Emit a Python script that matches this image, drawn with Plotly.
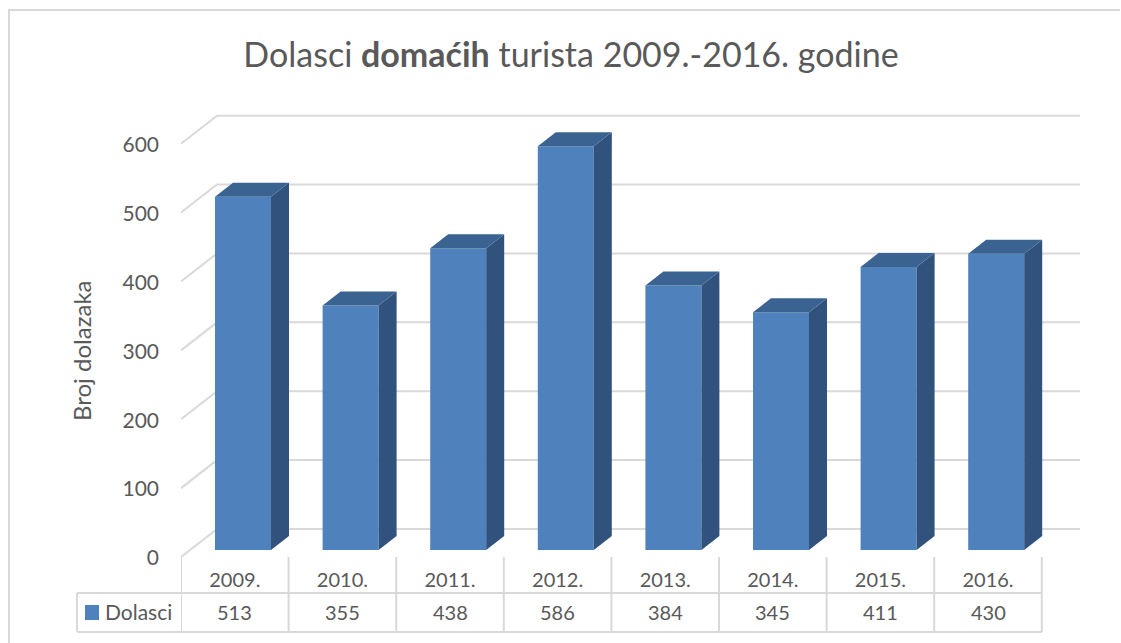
import plotly.graph_objects as go

years = ["2009.", "2010.", "2011.", "2012.", "2013.", "2014.", "2015.", "2016."]
values = [513, 355, 438, 586, 384, 345, 411, 430]
y_ticks = [0, 100, 200, 300, 400, 500, 600]
series_name = "Dolasci"
title = "Dolasci <b>domaćih</b> turista 2009.-2016. godine"
y_title = "Broj dolazaka"

W, H = 1121, 643
L, R, T, B = 181, 1085, 105, 557       # plot area in pixels
SX = 107.6                              # px per category
SY = 413.3 / 600                        # px per value unit

GREY = "#d9d9d9"
TEXT = "#595959"
FRONT = "#4f81bd"
SIDE = "#31527d"
TOP = "#3a6392"

px = lambda p: (p - L) / (R - L)
py = lambda p: (B - p) / (B - T)

idx = list(range(len(years)))
wall_dx, wall_dy = 36 / SX, 28 / SY
wall_end = (1080 - L) / SX - 0.5
bar_shift, bar_w = 8.2 / SX, 56 / SX
bar_dx, bar_dy = 18 / SX, 14 / SY
bar_base = 7 / SY

fig = go.Figure()
fig.add_bar(x=[i + bar_shift for i in idx], y=values, base=bar_base, width=bar_w,
            marker=dict(color=FRONT, line=dict(width=0)), name=series_name,
            showlegend=False, hoverinfo="skip")

for i, v in zip(idx, values):
    xl = i + bar_shift - bar_w / 2
    xr = xl + bar_w
    ybot = bar_base
    ytop = bar_base + v
    fig.add_scatter(x=[xr, xr + bar_dx, xr + bar_dx, xr, xr],
                    y=[ybot, ybot + bar_dy, ytop + bar_dy, ytop, ybot],
                    mode="lines", fill="toself", fillcolor=SIDE, line=dict(width=0),
                    showlegend=False, hoverinfo="skip")
    fig.add_scatter(x=[xl, xl + bar_dx, xr + bar_dx, xr, xl],
                    y=[ytop, ytop + bar_dy, ytop + bar_dy, ytop, ytop],
                    mode="lines", fill="toself", fillcolor=TOP, line=dict(width=0),
                    showlegend=False, hoverinfo="skip")

shapes = []
for t in y_ticks:
    shapes.append(dict(type="path", xref="x", yref="y", layer="below",
                       path=f"M -0.5,{t} L {-0.5 + wall_dx},{t + wall_dy} L {wall_end},{t + wall_dy}",
                       line=dict(color=GREY, width=2)))

line = dict(color=GREY, width=2)
for b in [i - 0.5 for i in idx] + [idx[-1] + 0.5]:
    shapes.append(dict(type="line", xref="x", yref="paper", x0=b, x1=b,
                       y0=py(557), y1=py(632), line=line))
for yy in (593, 632):
    shapes.append(dict(type="line", xref="paper", yref="paper", x0=px(77), x1=px(1042),
                       y0=py(yy), y1=py(yy), line=line))
shapes.append(dict(type="line", xref="paper", yref="paper", x0=px(77), x1=px(77),
                   y0=py(593), y1=py(632), line=line))
shapes.append(dict(type="path", xref="paper", yref="paper",
                   path=f"M {px(9)},{py(643)} L {px(9)},{py(10)} L {px(1120)},{py(10)}",
                   line=line))
shapes.append(dict(type="rect", xref="paper", yref="paper", x0=px(85), x1=px(99),
                   y0=py(620), y1=py(605), fillcolor=FRONT, line=dict(width=0)))

annotations = [dict(xref="x", yref="paper", x=i, y=py(612), yanchor="middle", text=str(v),
                    showarrow=False, font=dict(family="Lato", size=20, color=TEXT))
               for i, v in zip(idx, values)]
annotations.append(dict(xref="paper", yref="paper", x=px(103), y=py(611), xanchor="left",
                        yanchor="middle", text=series_name, showarrow=False,
                        font=dict(family="Lato", size=21, color=TEXT)))
annotations.append(dict(xref="paper", yref="paper", x=px(81), y=py(351), xanchor="center",
                        yanchor="middle", text=y_title, textangle=-90, showarrow=False,
                        font=dict(family="Lato", size=24, color=TEXT)))

fig.update_layout(
    width=W, height=H, autosize=False,
    margin=dict(l=L, r=W - R, t=T, b=H - B, pad=0, autoexpand=False),
    paper_bgcolor="white", plot_bgcolor="white", showlegend=False,
    title=dict(text=title, xref="container", x=571 / W, xanchor="center",
               yref="container", y=1 - 55 / H, yanchor="middle",
               font=dict(family="Lato", size=34, color=TEXT)),
    xaxis=dict(range=[-0.5, (R - L) / SX - 0.5], tickmode="array", tickvals=idx, ticktext=years,
               showgrid=False, zeroline=False, showline=False, ticks="", ticklabelstandoff=9,
               tickfont=dict(family="Lato", size=20, color=TEXT), fixedrange=True),
    yaxis=dict(range=[0, (B - T) / SY], tickmode="array", tickvals=y_ticks,
               showgrid=False, zeroline=False, showline=False, ticks="", ticklabelstandoff=21,
               ticklabelshift=1,
               tickfont=dict(family="Lato", size=21, color=TEXT), fixedrange=True),
    shapes=shapes, annotations=annotations, barmode="overlay",
)
fig.write_html("out.html", post_script="document.body.style.margin='0';document.body.style.overflow='hidden';",
               config={"displayModeBar": False})
